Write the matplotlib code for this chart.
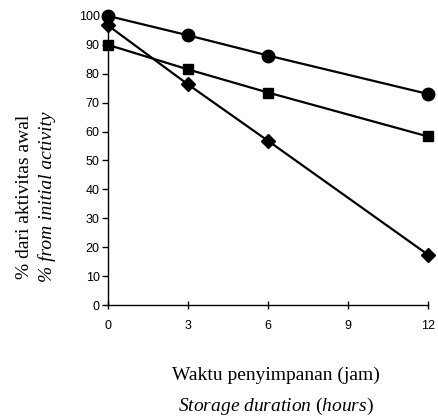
import matplotlib
matplotlib.use('Agg')
import matplotlib.pyplot as plt

plt.rcParams['mathtext.fontset'] = 'custom'
plt.rcParams['mathtext.rm'] = 'Liberation Serif'
plt.rcParams['mathtext.it'] = 'Liberation Serif:italic'

# storage time (hours) and % of initial activity for three samples
hours = [0, 3, 6, 12]
circle_vals = [100, 93.3, 86.3, 73]
square_vals = [90, 81.5, 73.5, 58.3]
diamond_vals = [96.7, 76.3, 56.8, 17.4]

x_ticks = [0, 3, 6, 9, 12]
y_ticks = list(range(0, 101, 10))

fig = plt.figure(figsize=(4.39, 4.19), dpi=100)
ax = fig.add_axes([0.246, 0.272, 0.729, 0.69])

ax.plot(hours, circle_vals, color='k', lw=1.6, marker='o', ms=9, clip_on=False)
ax.plot(hours, square_vals, color='k', lw=1.6, marker='s', ms=7, clip_on=False)
ax.plot(hours, diamond_vals, color='k', lw=1.6, marker='D', ms=7, clip_on=False)

ax.set_xlim(0, 12)
ax.set_ylim(0, 100)
ax.set_xticks(x_ticks)
ax.set_yticks(y_ticks)

tick_font = {'family': 'Liberation Sans', 'size': 9}
ax.set_xticklabels([str(t) for t in x_ticks], fontdict=tick_font)
ax.set_yticklabels([str(t) for t in y_ticks], fontdict=tick_font)
ax.tick_params(axis='x', direction='inout', length=6, width=1, pad=8)
ax.tick_params(axis='y', direction='out', length=4, width=1, pad=2)

# remove the unneeded spines
ax.spines['right'].set_visible(False)
ax.spines['top'].set_visible(False)
ax.spines['left'].set_linewidth(1)
ax.spines['bottom'].set_linewidth(1)

serif = 'Liberation Serif'
fig.text(0.055, 0.53, '% dari aktivitas awal', rotation=90, ha='center', va='center',
         family=serif, size=14)
fig.text(0.107, 0.53, '% from initial activity', rotation=90, ha='center', va='center',
         family=serif, size=14, style='italic')

fig.text(0.629, 0.103, 'Waktu penyimpanan (jam)', ha='center', va='center',
         family=serif, size=14)
fig.text(0.629, 0.031, r'$\mathit{Storage\ duration}\ \mathrm{(}\mathit{hours}\mathrm{)}$',
         ha='center', va='center', size=14)

fig.savefig('out.png', dpi=100)
